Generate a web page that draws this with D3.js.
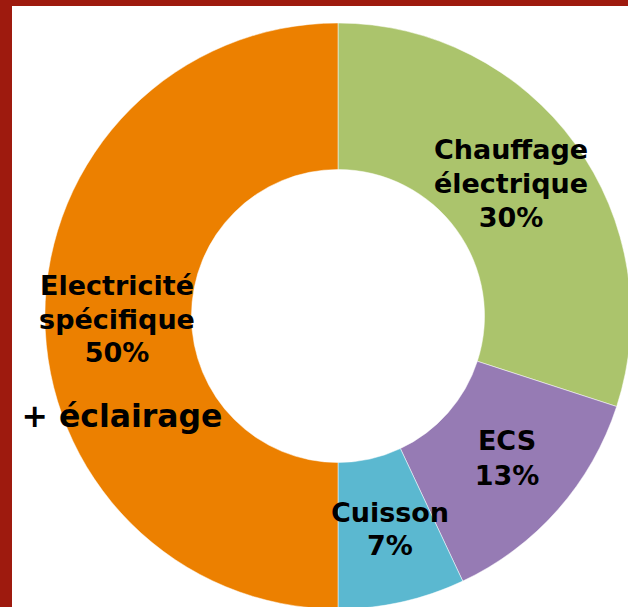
<!DOCTYPE html>
<html><head><meta charset="utf-8">
<script src="https://cdn.jsdelivr.net/npm/d3@7"></script>
<style>body{margin:0;background:#fff;overflow:hidden}</style>
</head><body>
<svg id="c" width="628" height="607"></svg>
<script>
const categories = ["Chauffage électrique", "ECS", "Cuisson", "Electricité spécifique"];
const values = [30, 13, 7, 50];
const colors = ["#ABC46C", "#967BB4", "#5BB8D0", "#EC8000"];
const labelLines = [["Chauffage", "électrique", "30%"], ["ECS", "13%"], ["Cuisson", "7%"], ["Electricité", "spécifique", "50%"]];

const svg = d3.select("#c");
svg.append("rect").attr("x",0).attr("y",0).attr("width",628).attr("height",607).attr("fill","#9E1A0E");
svg.append("rect").attr("x",12).attr("y",6).attr("width",616).attr("height",601).attr("fill","#fff");

const cx = 338, cy = 316, R = 293, r = 146.5;
const g = svg.append("g").attr("transform",`translate(${cx},${cy})`);
const pie = d3.pie().sort(null).value(d=>d)(values);
const arc = d3.arc().innerRadius(r).outerRadius(R);
g.selectAll("path").data(pie).join("path")
  .attr("d", arc).attr("fill",(d,i)=>colors[i])
  .attr("stroke","#fff").attr("stroke-width",0.5);

const labelPos = [[173,-157],[169,134],[52,206],[-221,-21]];
const lh = [34,35,33,33.5];
const font = "'DejaVu Sans', Verdana, sans-serif";
pie.forEach((d,i)=>{
  const t = g.append("text").attr("text-anchor","middle")
    .attr("font-family",font).attr("font-weight","bold").attr("font-size",27).attr("fill","#000");
  labelLines[i].forEach((s,j)=>{
    t.append("tspan").attr("x",labelPos[i][0]).attr("y",labelPos[i][1]+j*lh[i]).text(s);
  });
});
svg.append("text").attr("x",122).attr("y",427).attr("text-anchor","middle")
  .attr("font-family",font).attr("font-weight","bold").attr("font-size",31.5).text("+ éclairage");
</script>
</body></html>
